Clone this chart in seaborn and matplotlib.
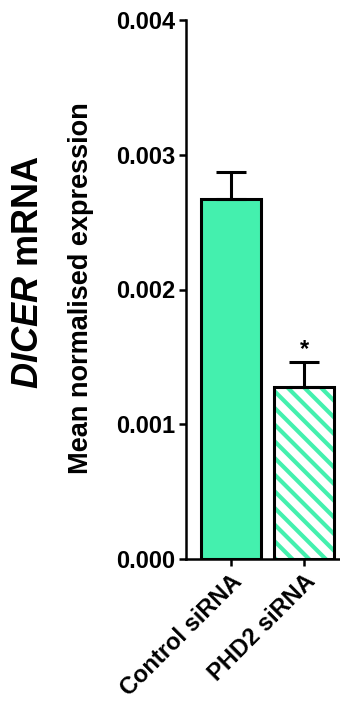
import matplotlib
matplotlib.use("Agg")
import matplotlib.pyplot as plt
import matplotlib.patches as mpatches
import seaborn as sns
import pandas as pd

# data
groups = ["Control siRNA", "PHD2 siRNA"]
means = [0.00267, 0.00128]
sems = [0.00020, 0.00018]
yticks = [0.000, 0.001, 0.002, 0.003, 0.004]

green = "#44F0AE"

sns.set_theme(style="white")
plt.rcParams["font.family"] = ["Liberation Sans", "DejaVu Sans"]
plt.rcParams["mathtext.fontset"] = "custom"
plt.rcParams["mathtext.it"] = "Liberation Sans:italic:bold"
plt.rcParams["mathtext.rm"] = "Liberation Sans:bold"
plt.rcParams["hatch.linewidth"] = 3.0
for k in ["text.color", "xtick.color", "ytick.color", "axes.labelcolor", "axes.edgecolor"]:
    plt.rcParams[k] = "black"

df = pd.DataFrame({"group": groups, "mean": means})

fig = plt.figure(figsize=(3.4, 7.11), dpi=100)
ax = fig.add_axes([186 / 340, 1 - 559 / 711, 1 - 186 / 340, (559 - 20) / 711])

sns.barplot(data=df, x="group", y="mean", ax=ax, color=green, width=0.82,
            saturation=1, edgecolor="black", linewidth=2.2, errorbar=None)

# second bar: striped, green hatch on white, black border on top
p = ax.patches[1]
p.set_facecolor("white")
p.set_edgecolor(green)
p.set_hatch("\\\\")
p.set_linewidth(0)
ax.add_patch(mpatches.Rectangle((p.get_x(), p.get_y()), p.get_width(), p.get_height(),
                                fill=False, edgecolor="black", linewidth=2.2, zorder=p.get_zorder() + 0.1))

# upper error bars only
ax.errorbar(range(len(groups)), means, yerr=[[0] * len(sems), sems], fmt="none",
            ecolor="black", elinewidth=2.2, capsize=10.5, capthick=2.2, zorder=1)

ax.text(1, means[1] + sems[1] + 0.00001, "*", ha="center", va="bottom",
        fontsize=17, fontweight="bold")

ax.set_ylim(0, 0.004)
ax.set_xlim(-0.61, 1.49)
ax.set_yticks(yticks)
ax.set_yticklabels([f"{t:.3f}" for t in yticks], fontsize=17, fontweight="bold")
ax.set_xticks(range(len(groups)))
ax.set_xticklabels(groups, fontsize=17, fontweight="bold", rotation=45,
                   ha="right", rotation_mode="anchor")
ax.set_xlabel("")
ax.set_ylabel("")
ax.tick_params(axis="both", direction="out", length=5, width=1.8, color="black",
               left=True, bottom=True, pad=3)
for s in ["top", "right"]:
    ax.spines[s].set_visible(False)
for s in ["left", "bottom"]:
    ax.spines[s].set_color("black")
    ax.spines[s].set_linewidth(1.8)

fig.text(29 / 340, 1 - 272 / 711, r"$\mathit{DICER}$ mRNA", rotation=90,
         ha="center", va="center", fontsize=26, fontweight="bold")
fig.text(81 / 340, 1 - 288 / 711, "Mean normalised expression", rotation=90,
         ha="center", va="center", fontsize=19.5, fontweight="bold")

fig.savefig("out.png", dpi=100)
